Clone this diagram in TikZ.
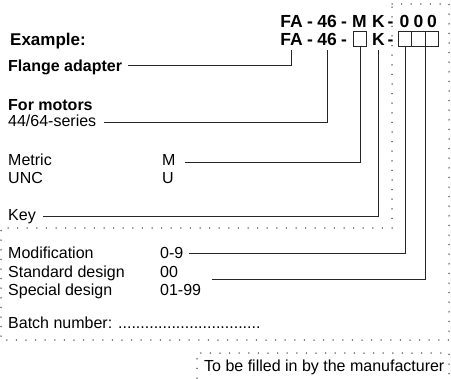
\documentclass[tikz,border=0pt]{standalone}
\usepackage{fontspec}
\setmainfont{Liberation Sans}
\begin{document}
\begin{tikzpicture}[x=1bp,y=-1bp,
  lbl/.style={anchor=base west,inner sep=0pt,font=\fontsize{16bp}{19bp}\selectfont},
  blbl/.style={anchor=base west,inner sep=0pt,font=\fontsize{16bp}{19bp}\selectfont\bfseries},
  codetxt/.style={anchor=base,inner sep=0pt,font=\fontsize{17.5bp}{21bp}\selectfont\bfseries},
  conn/.style={line width=0.9bp,draw=black!85},
  dotline/.style={line width=1.5bp,dash pattern=on 0bp off 9.6bp,line cap=round,draw=black!80},
  digit/.style={draw=black!85,line width=0.9bp,minimum width=13.5bp,minimum height=15bp,inner sep=0pt}]
\useasboundingbox (0,0) rectangle (451,378);

% dotted frames
\draw[dotline] (392,4) -- (449,4) -- (449,340) -- (1,340) -- (1,228) -- (392,228) -- cycle;
\draw[dotline] (197,378) -- (197,353) -- (449,353) -- (449,378);

% code row 1
\node[codetxt] (fa1) at (291.5,27) {FA};
\node[codetxt] (h11) at (310,27) {-};
\node[codetxt] (n1) at (327,27) {46};
\node[codetxt] (h12) at (344,27) {-};
\node[codetxt] (m1) at (359.5,27) {M};
\node[codetxt] (k1) at (378.5,27) {K};
\node[codetxt] (h13) at (390.5,27) {-};
\node[codetxt] (z1) at (404.5,27) {0};
\node[codetxt] (z2) at (418.5,27) {0};
\node[codetxt] (z3) at (432,27) {0};

% code row 2
\node[codetxt] (fa2) at (291.5,45) {FA};
\node[codetxt] (h21) at (310,45) {-};
\node[codetxt] (n2) at (327,45) {46};
\node[codetxt] (h22) at (344,45) {-};
\node[digit] (mb) at (360,38.5) {};
\node[codetxt] (k2) at (378.5,45) {K};
\node[codetxt] (h23) at (390.5,45) {-};
\node[digit] (b1) at (405,38.5) {};
\node[digit] (b2) at (418.5,38.5) {};
\node[digit] (b3) at (432,38.5) {};

% labels
\node[anchor=base west,inner sep=0pt,font=\fontsize{17bp}{20bp}\selectfont\bfseries] (ex) at (10,45) {Example:};
\node[blbl] (fl) at (8,71) {Flange adapter};
\node[blbl] (fm) at (8,110) {For motors};
\node[lbl] (ser) at (8,126) {44/64-series};
\node[lbl] (met) at (8,165) {Metric};
\node[lbl] (unc) at (8,183) {UNC};
\node[lbl] (mm) at (162,165) {M};
\node[lbl] (uu) at (162,183) {U};
\node[lbl] (key) at (8,220) {Key};
\node[lbl] (mod) at (8,258) {Modification};
\node[lbl] (std) at (8,277) {Standard design};
\node[lbl] (spe) at (8,295) {Special design};
\node[lbl] (v09) at (160,258) {0-9};
\node[lbl] (v00) at (160,277) {00};
\node[lbl] (v01) at (160,295) {01-99};
\node[lbl] (batch) at (8,328) {Batch number: ................................};
\node[lbl] (tbf) at (204,371) {To be filled in by the manufacturer};

% connector start points
\coordinate (flS) at (128,65);
\coordinate (serS) at (104,122);
\coordinate (mS) at (185,162);
\coordinate (keyS) at (43,216);
\coordinate (modS) at (189,253);
\coordinate (stdS) at (212,279);

% connectors
\draw[conn] (flS) -| ([yshift=-5bp]fa2.south);
\draw[conn] (serS) -| ([yshift=-5bp]n2.south);
\draw[conn] (mS) -| (mb.south);
\draw[conn] (keyS) -| ([yshift=-5bp]k2.south);
\draw[conn] (modS) -| (b1.south);
\draw[conn] (stdS) -| (b2.south east);
\end{tikzpicture}
\end{document}
